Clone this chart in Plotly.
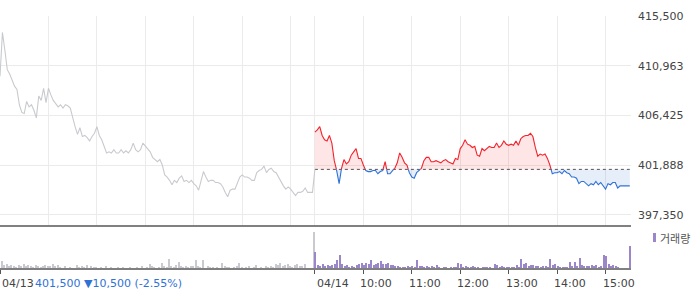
import plotly.graph_objects as go

# ---------------- data ----------------
REF_PRICE = 401500          # 04/13 close (reference for 04/14)
STEP_MIN = 3                # sampling step in minutes
SESSION_MIN = 390           # 09:00 - 15:30

day1_prices = [
    410000, 414000, 412400, 410600, 410200, 409700, 409100, 408800, 407400, 406700,
    406600, 407700, 407200, 407400, 406900, 406200, 408200, 407800, 408900, 407600,
    408900, 408300, 407800, 407500, 407200, 407400, 407100, 407400, 407300, 407100,
    406200, 405400, 404700, 405300, 404500, 404600, 404400, 404100, 404500, 404800,
    405400, 404600, 404200, 403500, 403000, 403100, 403000, 403300, 403000, 403000,
    403300, 403000, 403200, 403000, 403300, 403900, 403300, 403100, 403300, 403900,
    403600, 403300, 403100, 402600, 402400, 402200, 402400, 401900, 401000, 400800,
    400500, 400100, 400500, 400300, 400700, 400900, 400400, 400500, 400300, 400500,
    400200, 400000, 399600, 400500, 401300, 400800, 400400, 400500, 400500, 400300,
    400300, 400200, 399900, 399400, 399000, 399600, 399700, 399700, 400200, 400800,
    401000, 400800, 400800, 400700, 400500, 400500, 401200, 401400, 401500, 401800,
    401200, 401500, 401600, 401300, 401200, 400800, 400300, 400000, 399700, 399900,
    399700, 399400, 399100, 399400, 399400, 399500, 399800, 399400, 399400, 399400,
    401500,
]

day2_prices = [
    404900, 405100, 405400, 404600, 404200, 404100, 404600, 403900, 402300, 401400,
    400200, 401600, 402400, 402000, 402200, 402800, 403100, 403400, 402500, 402500,
    401900, 401400, 401300, 401300, 401400, 401400, 401100, 401300, 401400, 402200,
    401100, 401100, 401400, 401600, 402100, 403000, 402600, 402100, 401900, 401200,
    400800, 400700, 401200, 401400, 401600, 402300, 402600, 402600, 402200, 402200,
    402300, 402200, 402100, 402300, 402400, 402200, 402100, 402000, 402500, 402400,
    403400, 403700, 404200, 403800, 403700, 403500, 403600, 402800, 402700, 403400,
    403200, 403400, 403600, 403500, 403500, 403900, 403500, 403700, 404100, 403800,
    403700, 403800, 403700, 404100, 403700, 404300, 404500, 404600, 404600, 404800,
    404500, 403500, 402700, 402900, 402800, 402900, 402500, 401900, 401100, 401200,
    401200, 401300, 401100, 401400, 401200, 401100, 400800, 400800, 400700, 400200,
    400400, 400400, 400200, 400000, 400200, 400100, 400400, 400100, 400300, 400000,
    399700, 400200, 400100, 400300, 400300, 399800, 400000, 400000, 400000, 400000,
    400000,
]

day1_volume = [
    12, 7, 3, 4, 2, 3, 2, 1, 3, 2,
    4, 2, 3, 2, 1, 3, 2, 1, 2, 3,
    2, 2, 4, 2, 3, 1, 0, 2, 0, 1,
    0, 0, 3, 1, 2, 1, 3, 0, 2, 1,
    1, 0, 1, 0, 2, 0, 1, 0, 0, 1,
    0, 1, 0, 0, 1, 0, 0, 1, 0, 2,
    0, 1, 4, 2, 1, 0, 1, 5, 2, 1,
    9, 2, 1, 3, 6, 2, 1, 2, 1, 2,
    2, 8, 2, 1, 8, 0, 2, 1, 1, 0,
    1, 0, 5, 2, 1, 1, 0, 1, 2, 5,
    1, 0, 1, 2, 0, 1, 3, 0, 1, 0,
    2, 1, 2, 1, 4, 3, 5, 2, 3, 4,
    2, 1, 3, 4, 2, 2, 4, 0, 0, 0,
    36,
]

day2_volume = [
    16, 3, 2, 4, 2, 3, 2, 3, 4, 8,
    13, 4, 2, 3, 1, 2, 1, 3, 4, 5,
    3, 5, 4, 8, 3, 4, 5, 7, 4, 4,
    5, 3, 3, 2, 2, 1, 1, 1, 2, 1,
    2, 1, 8, 2, 2, 1, 2, 1, 2, 1,
    3, 1, 0, 1, 1, 0, 1, 1, 1, 5,
    4, 1, 2, 1, 1, 2, 1, 1, 0, 1,
    1, 1, 1, 0, 4, 3, 1, 2, 1, 1,
    1, 1, 1, 3, 1, 9, 4, 5, 2, 3,
    3, 2, 2, 1, 2, 2, 1, 9, 3, 4,
    2, 1, 1, 1, 1, 6, 2, 6, 2, 10,
    3, 2, 2, 2, 3, 2, 3, 1, 2, 13,
    12, 4, 2, 3, 2, 1, 0, 0, 0, 0,
    22,
]

y_tick_values = [397350, 401887.5, 406425, 410962.5, 415500]
y_tick_labels = ["397,350", "401,888", "406,425", "410,963", "415,500"]

x_label_minutes = [0, 390, 450, 510, 570, 630, 690, 750]
x_label_texts = ["04/13", "04/14", "10:00", "11:00", "12:00", "13:00", "14:00", "15:00"]
grid_minutes = [60, 120, 180, 240, 300, 360, 390, 450, 510, 570, 630, 690, 750]

close_text = "401,500 ▼10,500 (-2.55%)"
volume_label = "거래량"

# ---------------- derived ----------------
t1 = [STEP_MIN * i for i in range(len(day1_prices))]
t2 = [SESSION_MIN + STEP_MIN * j for j in range(len(day2_prices))]
vt1 = [STEP_MIN * i for i in range(len(day1_volume))]
vt2 = [SESSION_MIN + STEP_MIN * j for j in range(len(day2_volume))]


def split_at_ref(t, v, ref):
    tt, vv = [t[0]], [v[0]]
    for k in range(1, len(v)):
        a, b = v[k - 1], v[k]
        if (a - ref) * (b - ref) < 0:
            tc = t[k - 1] + (t[k] - t[k - 1]) * (ref - a) / (b - a)
            tt.append(tc)
            vv.append(ref)
        tt.append(t[k])
        vv.append(b)
    return tt, vv


tt, vv = split_at_ref(t2, day2_prices, REF_PRICE)
up = [x if x >= REF_PRICE else None for x in vv]
dn = [x if x <= REF_PRICE else None for x in vv]
up_fill = [max(x, REF_PRICE) for x in vv]
dn_fill = [min(x, REF_PRICE) for x in vv]
ref_line = [REF_PRICE for _ in tt]

RED = "#f3232b"
BLUE = "#2f72d6"
GREY = "#c9cacf"
PURPLE = "#9a86c8"
FONT = "DejaVu Sans"

fig = go.Figure()

# fills
fig.add_trace(go.Scatter(x=tt, y=ref_line, mode="lines", line=dict(width=0), hoverinfo="skip", showlegend=False))
fig.add_trace(go.Scatter(x=tt, y=up_fill, mode="lines", line=dict(width=0), fill="tonexty",
                         fillcolor="rgba(245,60,70,0.13)", hoverinfo="skip", showlegend=False))
fig.add_trace(go.Scatter(x=tt, y=ref_line, mode="lines", line=dict(width=0), hoverinfo="skip", showlegend=False))
fig.add_trace(go.Scatter(x=tt, y=dn_fill, mode="lines", line=dict(width=0), fill="tonexty",
                         fillcolor="rgba(60,120,220,0.13)", hoverinfo="skip", showlegend=False))

# reference dotted line
fig.add_trace(go.Scatter(x=[t2[0], t2[-1]], y=[REF_PRICE, REF_PRICE], mode="lines",
                         line=dict(color="#555555", width=1, dash="dot"), showlegend=False))

# previous day line
fig.add_trace(go.Scatter(x=t1, y=day1_prices, mode="lines", line=dict(color=GREY, width=1.1), showlegend=False))
# today's lines
fig.add_trace(go.Scatter(x=tt, y=up, mode="lines", line=dict(color=RED, width=1.1),
                         connectgaps=False, showlegend=False))
fig.add_trace(go.Scatter(x=tt, y=dn, mode="lines", line=dict(color=BLUE, width=1.1),
                         connectgaps=False, showlegend=False))

# volume
fig.add_trace(go.Bar(x=vt1, y=day1_volume, marker=dict(color=GREY, line=dict(width=0)), width=1.3,
                     xaxis="x2", yaxis="y2", showlegend=False))
fig.add_trace(go.Bar(x=vt2, y=day2_volume, marker=dict(color=PURPLE, line=dict(width=0)), width=1.3,
                     xaxis="x2", yaxis="y2", showlegend=False))

X_RANGE = [0, 2 * SESSION_MIN + 1.5]

fig.update_layout(
    width=700, height=289,
    margin=dict(l=0, r=69, t=16, b=21),
    paper_bgcolor="white", plot_bgcolor="white",
    font=dict(family=FONT, size=11, color="#444444"),
    bargap=0,
    xaxis=dict(domain=[0, 1], range=X_RANGE, anchor="y", tickvals=grid_minutes, showticklabels=False,
               ticks="", showgrid=True, gridcolor="#ebebeb", gridwidth=1, zeroline=False,
               showline=True, linecolor="#808080", linewidth=1.5),
    yaxis=dict(domain=[0.1687, 1], range=[396380, 415500], side="right", tickvals=y_tick_values,
               ticktext=y_tick_labels, showgrid=True, gridcolor="#ebebeb", gridwidth=1,
               zeroline=False, showline=False, ticks="", ticklabelstandoff=6,
               tickfont=dict(family=FONT, size=11, color="#444444")),
    xaxis2=dict(domain=[0, 1], range=X_RANGE, anchor="y2", tickvals=x_label_minutes, showticklabels=False,
                ticks="outside", ticklen=4, tickcolor="#555555", showgrid=False, zeroline=False,
                showline=True, linecolor="#808080", linewidth=1.5),
    yaxis2=dict(domain=[0, 0.1627], range=[0, 41.5], visible=False, fixedrange=True),
)

# x labels
for m, txt in zip(x_label_minutes, x_label_texts):
    shift = 0 if "/" in txt else -5
    fig.add_annotation(x=m, y=-0.06, xref="x2", yref="paper", text=txt, showarrow=False,
                       xanchor="left", yanchor="middle", xshift=shift,
                       font=dict(family=FONT, size=11, color="#444444"))

fig.add_annotation(x=0, y=-0.06, xref="paper", yref="paper", text=close_text, showarrow=False,
                   xanchor="left", yanchor="middle", xshift=33,
                   font=dict(family=FONT, size=11, color="#2f72d6"))

# volume legend
fig.add_shape(type="rect", xref="paper", yref="paper", x0=1.0349, x1=1.0396, y0=0.103, y1=0.139,
              fillcolor=PURPLE, line=dict(width=0))
fig.add_annotation(x=1.043, y=0.121, xref="paper", yref="paper", text=volume_label, showarrow=False,
                   xanchor="left", yanchor="middle",
                   font=dict(family="Noto Sans CJK KR", size=11, color="#555555"))

fig.write_html("out.html")
